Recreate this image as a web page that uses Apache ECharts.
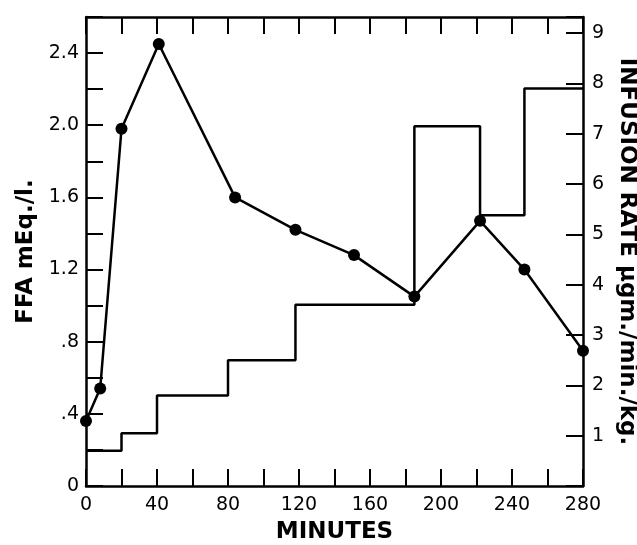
<!DOCTYPE html>
<html>
<head>
<meta charset="utf-8">
<script src="https://cdn.jsdelivr.net/npm/echarts@6/dist/echarts.min.js"></script>
<style>
html, body { margin: 0; padding: 0; background: #fff; }
#container { width: 637px; height: 545px; }
</style>
</head>
<body>
<div id="container"></div>
<script>
// FFA curve (left axis)
var minutes = [0, 8, 20, 41, 84, 118, 151, 185, 222, 247, 280];
var ffa = [0.36, 0.54, 1.98, 2.45, 1.60, 1.42, 1.28, 1.05, 1.47, 1.20, 0.75];
// infusion rate steps (right axis)
var stepMinutes = [0, 20, 40, 80, 118, 185, 222, 247, 280];
var infusionRate = [0.7, 1.05, 1.8, 2.5, 3.6, 7.15, 5.38, 7.9, 7.9];
// tick labels
var minuteLabels = ['0', '40', '80', '120', '160', '200', '240', '280'];
var ffaLabels = ['0', '.4', '.8', '1.2', '1.6', '2.0', '2.4'];
var rateLabels = ['1', '2', '3', '4', '5', '6', '7', '8', '9'];

var dom = document.getElementById('container');
var myChart = echarts.init(dom);
var font = 'DejaVu Sans';
var axisLine = { show: true, onZero: false, lineStyle: { color: '#000', width: 2.5 } };
var tick = { show: true, inside: true, length: 17, lineStyle: { color: '#000', width: 2 } };

var option = {
    animation: false,
    backgroundColor: '#fff',
    grid: { left: 86, top: 17, right: 54, bottom: 59, containLabel: false, outerBoundsMode: 'none' },
    xAxis: [{
        type: 'value',
        min: 0,
        max: 280,
        interval: 20,
        name: 'MINUTES',
        nameLocation: 'middle',
        nameGap: 35,
        nameTextStyle: { fontFamily: font, fontWeight: 'bold', fontSize: 23, color: '#000' },
        axisLine: axisLine,
        axisTick: tick,
        splitLine: { show: false },
        axisLabel: {
            margin: 10,
            fontFamily: font, fontSize: 19, color: '#000',
            formatter: function (v) {
                var i = minuteLabels.indexOf(String(v));
                return i >= 0 ? minuteLabels[i] : '';
            }
        }
    }, {
        type: 'value',
        position: 'top',
        min: 0,
        max: 280,
        interval: 20,
        axisLine: axisLine,
        axisTick: tick,
        axisLabel: { show: false },
        splitLine: { show: false }
    }],
    yAxis: [{
        type: 'value',
        min: 0,
        max: 2.6,
        interval: 0.2,
        name: 'FFA mEq./l.',
        nameLocation: 'middle',
        nameRotate: 90,
        nameGap: 47,
        nameTextStyle: { fontFamily: font, fontWeight: 'bold', fontSize: 23, color: '#000' },
        axisLine: axisLine,
        axisTick: tick,
        splitLine: { show: false },
        axisLabel: {
            margin: 7,
            fontFamily: font, fontSize: 19, color: '#000',
            formatter: function (v) {
                var k = Math.round(v * 10);
                if (k % 4 !== 0) return '';
                return ffaLabels[k / 4] || '';
            }
        }
    }, {
        type: 'value',
        position: 'right',
        min: 0,
        max: 9.32,
        interval: 1,
        name: 'INFUSION RATE \u00b5gm./min./kg.',
        nameLocation: 'middle',
        nameRotate: -90,
        nameGap: 27,
        nameTextStyle: { fontFamily: font, fontWeight: 'bold', fontSize: 23, color: '#000' },
        axisLine: axisLine,
        axisTick: tick,
        splitLine: { show: false },
        axisLabel: {
            margin: 9,
            fontFamily: font, fontSize: 19, color: '#000',
            formatter: function (v) {
                if (v === 0 || Math.abs(v - Math.round(v)) > 1e-6) return '';
                return rateLabels[Math.round(v) - 1] || '';
            }
        }
    }],
    series: [{
        name: 'infusion',
        type: 'line',
        yAxisIndex: 1,
        step: 'end',
        symbol: 'none',
        lineStyle: { color: '#000', width: 2.5 },
        data: stepMinutes.map(function (m, i) { return [m, infusionRate[i]]; })
    }, {
        name: 'FFA',
        type: 'line',
        yAxisIndex: 0,
        symbol: 'circle',
        symbolSize: 12,
        itemStyle: { color: '#000' },
        lineStyle: { color: '#000', width: 2.5 },
        z: 3,
        data: minutes.map(function (m, i) { return [m, ffa[i]]; })
    }]
};
myChart.setOption(option);
</script>
</body>
</html>
